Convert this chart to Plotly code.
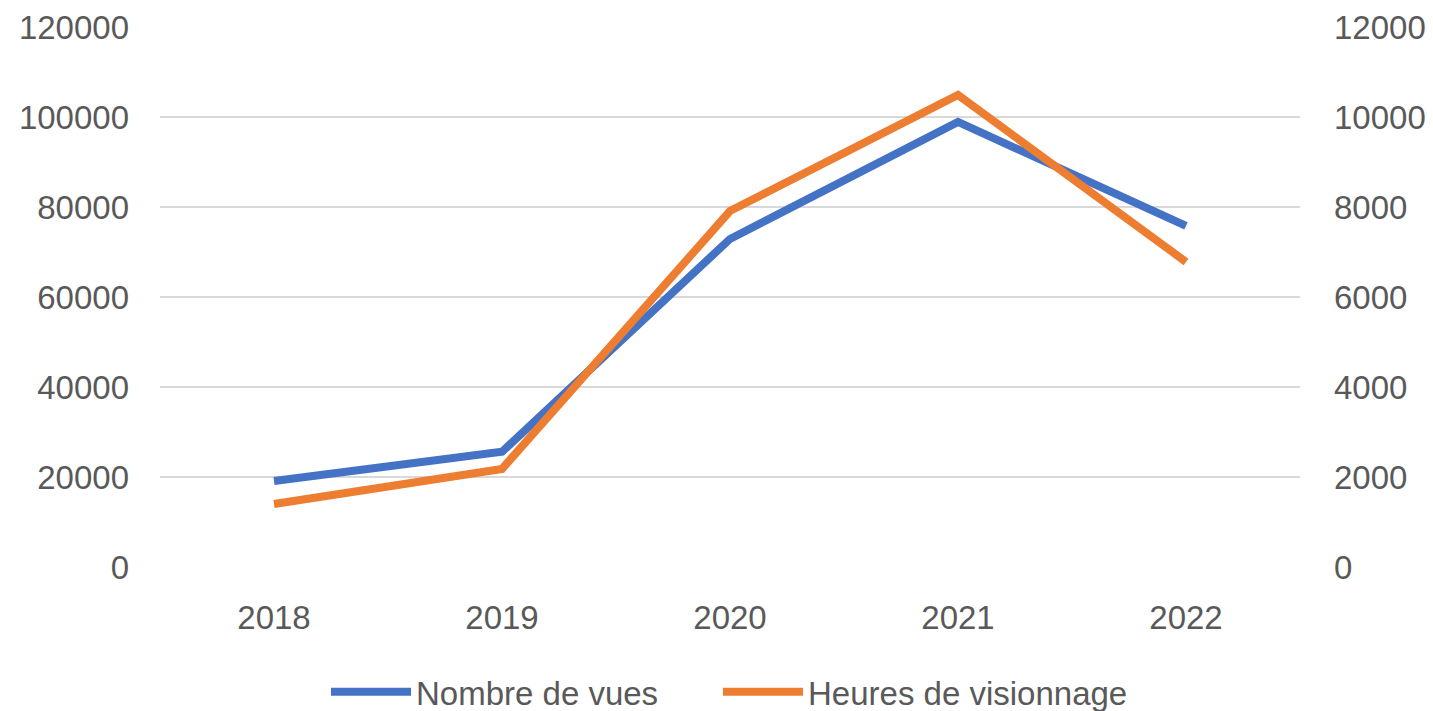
import plotly.graph_objects as go

years = ["2018", "2019", "2020", "2021", "2022"]
vues = [19100, 25600, 72900, 98900, 75800]
heures = [1400, 2180, 7910, 10490, 6780]
left_ticks = [0, 20000, 40000, 60000, 80000, 100000, 120000]
right_ticks = [0, 2000, 4000, 6000, 8000, 10000, 12000]

font_family = "Liberation Sans"
text_color = "#595959"
fs = 33
W, H = 1433, 711

fig = go.Figure()
fig.add_trace(go.Scatter(x=years, y=vues, name="Nombre de vues", mode="lines",
                         line=dict(color="#4472C4", width=8), yaxis="y", legend="legend"))
fig.add_trace(go.Scatter(x=years, y=heures, name="Heures de visionnage", mode="lines",
                         line=dict(color="#ED7D31", width=8), yaxis="y2", legend="legend2"))

legend_common = dict(orientation="h", yanchor="middle", yref="container", y=0.027,
                     xref="container", xanchor="left",
                     font=dict(size=fs, color=text_color), itemwidth=80,
                     bgcolor="rgba(0,0,0,0)")

fig.update_layout(
    width=W, height=H,
    margin=dict(l=160, r=133, t=27, b=144, autoexpand=False),
    paper_bgcolor="white", plot_bgcolor="white",
    font=dict(family=font_family, size=fs, color=text_color),
    xaxis=dict(type="category", range=[-0.5, 4.5], showgrid=False, showline=False,
               zeroline=False, ticks="", ticklabelstandoff=28, automargin=False,
               tickfont=dict(size=fs, color=text_color)),
    yaxis=dict(range=[0, 120000], tickvals=left_ticks, ticktext=[str(v) for v in left_ticks],
               showgrid=True, gridcolor="#D9D9D9", gridwidth=2, zeroline=False,
               showline=False, ticks="", ticklabelstandoff=30, automargin=False,
               tickfont=dict(size=fs, color=text_color)),
    yaxis2=dict(range=[0, 12000], tickvals=right_ticks, ticktext=[str(v) for v in right_ticks],
                overlaying="y", side="right", showgrid=False, zeroline=False,
                showline=False, ticks="", ticklabelstandoff=33, automargin=False,
                tickfont=dict(size=fs, color=text_color)),
    legend=dict(legend_common, x=(328 - 2) / W),
    legend2=dict(legend_common, x=(720 - 2) / W),
    showlegend=True,
)

fig.write_html("out.html", config={"displayModeBar": False})

with open("out.html", "r", encoding="utf-8") as f:
    html = f.read()
html = html.replace("<body>", '<body style="margin:0;overflow:hidden">', 1)
with open("out.html", "w", encoding="utf-8") as f:
    f.write(html)
